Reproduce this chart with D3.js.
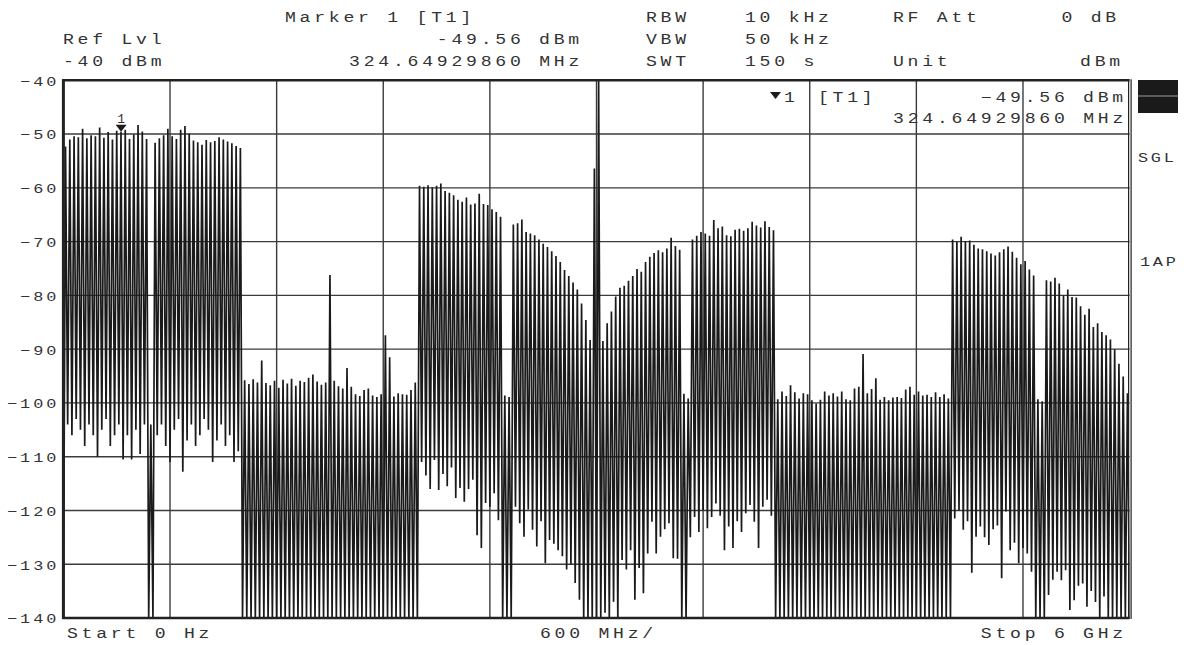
<!DOCTYPE html>
<html>
<head>
<meta charset="utf-8">
<script src="https://cdn.jsdelivr.net/npm/d3@7/dist/d3.min.js"></script>
<style>
  html, body { margin: 0; padding: 0; background: #fff; }
  svg { display: block; }
  text { font-family: "Liberation Mono", "DejaVu Sans Mono", monospace; fill: #333; }
</style>
</head>
<body>
<svg id="chart" width="1194" height="645"></svg>
<script>
// ---- Sweep settings -------------------------------------------------------
const startMHz = 0;
const stopMHz = 6000;
const refLevel = -40;
const bottomLevel = -140;
const levelTicks = [-40, -50, -60, -70, -80, -90, -100, -110, -120, -130, -140];
const freqGrid = [0, 600, 1200, 1800, 2400, 3000, 3600, 4200, 4800, 5400, 6000];

// ---- Marker ---------------------------------------------------------------
const markerFreqMHz = 324.64929860;
const markerLevel = -49.56;

// ---- Trace (dBm), swept points alternate trough / peak ---------------------
// 0 - 470 MHz block
const lowsA  = [-140, -104, -106, -103, -105, -108, -104, -106, -110, -105, -103, -108, -106, -104, -110.5, -106, -110.5, -105, -109.5, -104];
const highsA = [-52.3, -51.0, -50.4, -50.6, -49.0, -50.8, -50.2, -50.4, -48.8, -50.7, -49.6, -51.0, -49.4, -49.56, -49.2, -50.9, -50.1, -48.3, -49.5, -50.9];
// notch near 490 MHz
const lowsNotch  = [-140];
const highsNotch = [-104];
// 500 - 1000 MHz block
const lowsB  = [-140, -106, -104, -108, -111, -105, -103, -112.8, -107, -104, -108, -106, -103, -105, -111, -107, -104, -108, -106, -111, -109];
const highsB = [-51.6, -50.8, -50.2, -49.0, -50.4, -50.9, -49.2, -48.5, -49.9, -51.2, -51.5, -52.0, -51.1, -51.5, -51.3, -50.6, -51.0, -51.4, -51.7, -52.2, -52.6];
// 1.0 - 2.0 GHz noise floor
const lowsC  = [-140, -140, -140, -140, -140, -140, -140, -140, -140, -140, -140, -140, -140, -140, -140, -140, -140, -140, -140, -140, -140, -140, -140, -140, -140, -140, -140, -140, -140, -140, -140, -140, -140, -140, -140, -140, -140, -140, -140, -140, -140];
const highsC = [-95.8, -96.5, -95.6, -96.2, -92.1, -96.3, -96.7, -95.9, -97.2, -95.7, -96.4, -95.5, -96.8, -95.9, -96.1, -95.3, -94.7, -96.0, -96.6, -96.2, -76.2, -95.9, -96.9, -97.3, -93.5, -97.0, -98.4, -98.7, -97.6, -97.3, -98.6, -98.9, -98.4, -87.4, -91.5, -98.8, -98.2, -98.4, -98.5, -97.6, -96.2];
// 2.0 - 3.0 GHz block (falling)
const lowsD  = [-140, -111, -113.5, -116, -110.6, -116.2, -113.2, -115.5, -112, -117.7, -115.8, -118.4, -116, -114.3, -124.6, -127, -118.6, -119.3, -116.8, -121.8, -140, -140, -140, -119.3, -122.4, -124.9, -119.8, -123.6, -126.7, -122, -129.8, -125.5, -126.2, -127.4, -128.5, -131, -130, -133.5, -136.6, -140, -140, -140];
const highsD = [-59.6, -59.8, -59.5, -59.9, -59.6, -59.2, -60.6, -60.9, -61.4, -62.2, -62.6, -61.8, -63.1, -62.9, -61.1, -63.0, -63.2, -64.0, -64.5, -65.4, -98.6, -98.9, -66.8, -66.6, -65.9, -68.2, -68.5, -68.8, -69.6, -70.4, -71.0, -71.8, -72.7, -73.8, -75.3, -76.4, -77.6, -78.9, -81.5, -84.6, -88.3, -56.4];
// carrier at 3 GHz
const lowsCarrier  = [-140];
const highsCarrier = [-40];
// 3.0 - 4.0 GHz block (rising)
const lowsE  = [-140, -139, -140, -137, -140, -129.2, -131, -127.4, -136.6, -130.7, -135.4, -128, -122.1, -128, -124.9, -123.5, -122.4, -128.9, -129, -140, -140, -125, -121.2, -124, -120, -123.3, -121.2, -118.7, -121, -127.4, -123, -127, -122, -124, -120.5, -119, -122.1, -127, -119.3, -118, -121];
const highsE = [-88.5, -85.2, -83.0, -80.2, -78.6, -78.2, -77.3, -76.4, -75.1, -75.6, -73.8, -72.8, -72.1, -71.6, -72.0, -71.3, -69.3, -70.8, -71.5, -98.3, -99.2, -69.6, -68.9, -68.2, -68.5, -68.9, -66.0, -67.5, -67.2, -68.8, -69.0, -67.8, -67.6, -68.0, -67.5, -66.3, -67.0, -67.4, -66.2, -67.3, -67.9];
// 4.0 - 5.0 GHz noise floor
const lowsF  = [-140, -140, -140, -140, -140, -140, -140, -140, -140, -140, -140, -140, -140, -140, -140, -140, -140, -140, -140, -140, -140, -140, -140, -140, -140, -140, -140, -140, -140, -140, -140, -140, -140, -140, -140, -140, -140, -140, -140, -140, -140];
const highsF = [-99.3, -97.9, -98.7, -96.7, -98.0, -99.2, -98.2, -98.4, -99.5, -100.1, -99.4, -97.9, -98.6, -98.2, -98.8, -97.9, -99.3, -99.5, -97.3, -97.0, -90.9, -98.2, -97.4, -95.4, -99.4, -98.9, -99.5, -99.0, -98.9, -99.1, -97.5, -97.0, -98.5, -97.9, -98.6, -98.5, -98.9, -98.0, -98.9, -98.4, -99.2];
// 5.0 - 6.0 GHz block (falling)
const lowsG  = [-140, -121.5, -120, -123.6, -122, -131.6, -124.9, -123, -125, -126.4, -123.5, -122.8, -132.6, -120.2, -127.4, -126, -129.8, -127, -128, -131.4, -140, -140, -140, -135.7, -132.9, -131.4, -133, -131.1, -138.5, -136.7, -134, -133.6, -137.9, -135, -137, -140, -136, -140, -140, -140, -140, -140];
const highsG = [-69.6, -70.0, -69.1, -69.9, -69.8, -70.6, -71.3, -71.4, -71.8, -72.2, -72.6, -72.0, -71.4, -70.9, -71.9, -73.0, -74.2, -73.6, -75.2, -76.3, -99.3, -99.7, -77.2, -77.4, -76.7, -77.8, -80.0, -78.9, -80.3, -80.4, -82.0, -83.6, -82.5, -85.9, -85.2, -86.8, -87.4, -88.2, -90.0, -92.7, -95.1, -98.2];
const sweepEnd = [-140];

// ---- Annotation text --------------------------------------------------------
const headerRow1 = [["Marker 1 [T1]", 285, "start"], ["RBW", 646, "start"], ["10 kHz", 745, "start"], ["RF Att", 893, "start"], ["0 dB", 1120, "end"]];
const headerRow2 = [["Ref Lvl", 63, "start"], ["-49.56 dBm", 583, "end"], ["VBW", 646, "start"], ["50 kHz", 745, "start"]];
const headerRow3 = [["-40 dBm", 63, "start"], ["324.64929860 MHz", 583, "end"], ["SWT", 646, "start"], ["150 s", 745, "start"], ["Unit", 893, "start"], ["dBm", 1124, "end"]];
const footerRow  = [["Start 0 Hz", 67, "start"], ["600 MHz/", 540, "start"], ["Stop 6 GHz", 1127, "end"]];
const sideLabels = ["SGL", "1AP"];

// ---- Assemble the swept trace ----------------------------------------------
const segments = [
  [lowsA, highsA], [lowsNotch, highsNotch], [lowsB, highsB], [lowsC, highsC],
  [lowsD, highsD], [lowsCarrier, highsCarrier], [lowsE, highsE],
  [lowsF, highsF], [lowsG, highsG]
];
const trace = [];
segments.forEach(([lows, highs]) => {
  lows.forEach((v, k) => { trace.push(v); trace.push(highs[k]); });
});
sweepEnd.forEach(v => trace.push(v));
const stepMHz = (stopMHz - startMHz) / (trace.length - 1);

// ---- Layout --------------------------------------------------------------------
const plot = { left: 63.4, right: 1129.6, top: 80.3, bottom: 618 };
const svg = d3.select("#chart");
const x = d3.scaleLinear().domain([startMHz, stopMHz]).range([plot.left, plot.right]);
const y = d3.scaleLinear().domain([bottomLevel, refLevel]).range([plot.bottom, plot.top]);

const GLYPH_SX = 1.25;
function label(parent, str, px, py, anchor, size, spacing) {
  return parent.append("text")
    .attr("transform", `translate(${px},${py}) scale(${GLYPH_SX},1)`)
    .attr("text-anchor", anchor)
    .attr("font-size", size)
    .attr("letter-spacing", spacing)
    .text(str);
}

// grid
const grid = svg.append("g").attr("stroke", "#3c3c3c").attr("stroke-width", 1.4);
grid.selectAll("line.h").data(levelTicks.slice(1, -1)).join("line")
  .attr("x1", plot.left).attr("x2", plot.right)
  .attr("y1", d => y(d)).attr("y2", d => y(d));
grid.selectAll("line.v").data(freqGrid.slice(1, -1)).join("line")
  .attr("x1", d => x(d)).attr("x2", d => x(d))
  .attr("y1", plot.top).attr("y2", plot.bottom);

// trace
svg.append("clipPath").attr("id", "plotClip").append("rect")
  .attr("x", plot.left).attr("y", plot.top)
  .attr("width", plot.right - plot.left).attr("height", plot.bottom - plot.top);
const line = d3.line()
  .x((d, i) => x(startMHz + i * stepMHz))
  .y(d => y(d));
svg.append("path").datum(trace)
  .attr("clip-path", "url(#plotClip)")
  .attr("fill", "none").attr("stroke", "#1a1a1a").attr("stroke-width", 1.7)
  .attr("stroke-linejoin", "bevel")
  .attr("d", line);

// frame
const frame = svg.append("g").attr("stroke", "#222").attr("fill", "none");
frame.append("line").attr("x1", plot.left - 1).attr("x2", plot.right).attr("y1", plot.top).attr("y2", plot.top).attr("stroke-width", 2.4);
frame.append("line").attr("x1", plot.left - 1).attr("x2", plot.right).attr("y1", plot.bottom).attr("y2", plot.bottom).attr("stroke-width", 2.4);
frame.append("line").attr("x1", plot.left).attr("x2", plot.left).attr("y1", plot.top - 1).attr("y2", plot.bottom + 1).attr("stroke-width", 3);
frame.append("line").attr("x1", plot.right - 1).attr("x2", plot.right - 1).attr("y1", plot.top - 1).attr("y2", plot.bottom + 1).attr("stroke-width", 1.2);
frame.append("line").attr("x1", plot.right + 1.5).attr("x2", plot.right + 1.5).attr("y1", plot.top - 1).attr("y2", plot.bottom + 1).attr("stroke-width", 1.2);

// level axis
const yAxis = d3.axisLeft(y).tickValues(levelTicks).tickSize(0).tickPadding(0)
  .tickFormat(d => "\u2212" + Math.abs(d));
const ax = svg.append("g").attr("transform", `translate(${plot.left - 4},0)`).call(yAxis);
ax.select(".domain").remove();
ax.selectAll(".tick text")
  .attr("x", 0).attr("dy", "0.36em")
  .attr("transform", `scale(${GLYPH_SX},1)`)
  .attr("font-family", null).attr("font-size", 13.5).attr("letter-spacing", 2.4)
  .attr("fill", "#333");

// marker on trace
const mx = x(markerFreqMHz), my = y(markerLevel);
svg.append("path").attr("fill", "#1c1c1c")
  .attr("d", `M${mx - 5.5},${my - 7}L${mx + 5.5},${my - 7}L${mx},${my}Z`);
svg.append("text").attr("x", mx).attr("y", my - 9).attr("text-anchor", "middle")
  .attr("font-size", 13).text("1");

// header
const hdr = svg.append("g");
[[headerRow1, 22], [headerRow2, 44], [headerRow3, 66]].forEach(([row, by]) => {
  row.forEach(([s, px, a]) => label(hdr, s, px, by, a, 14.5, 3.0));
});
footerRow.forEach(([s, px, a]) => label(hdr, s, px, 638, a, 14.5, 3.0));

// marker readout inside the grid
svg.append("path").attr("fill", "#1c1c1c").attr("d", "M770,92L781,92L775.5,99Z");
label(hdr, "1", 784, 102, "start", 14.5, 3.0);
label(hdr, "[T1]", 818, 102, "start", 14.5, 3.0);
label(hdr, d3.format(".2f")(markerLevel) + " dBm", 1127, 102, "end", 14.5, 3.0);
label(hdr, markerFreqMHz.toFixed(8) + " MHz", 1127, 123, "end", 14.5, 3.0);

// right-hand status panel
svg.append("rect").attr("x", 1138).attr("y", 80).attr("width", 40).attr("height", 33).attr("fill", "#1a1a1a");
svg.append("line").attr("x1", 1138).attr("x2", 1178).attr("y1", 96).attr("y2", 96).attr("stroke", "#9a9a9a").attr("stroke-width", 1.2);
label(hdr, sideLabels[0], 1138, 162, "start", 13.5, 2.2);
label(hdr, sideLabels[1], 1140, 266, "start", 13.5, 2.2);
</script>
</body>
</html>
